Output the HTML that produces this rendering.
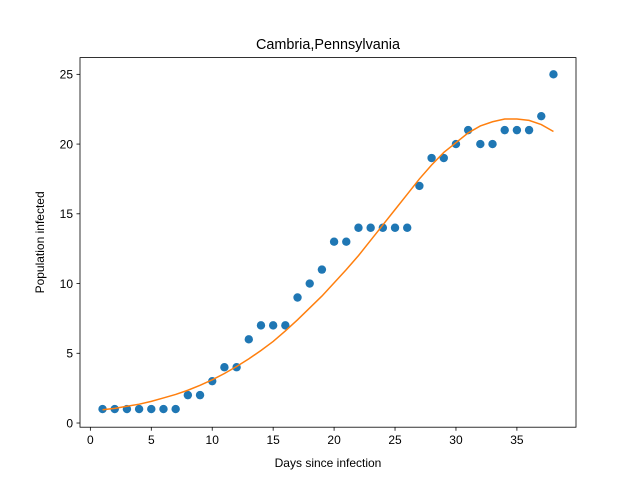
<!DOCTYPE html>
<html><head><meta charset="utf-8"><style>body{margin:0;background:#fff}svg{display:block;font-family:"Liberation Sans","DejaVu Sans",sans-serif}</style></head>
<body>
<svg id="chart" width="640" height="480" xmlns="http://www.w3.org/2000/svg">
<rect width="640" height="480" fill="#fff"/>
<text x="328" y="49" text-anchor="middle" font-size="14.4">Cambria,Pennsylvania</text>
<text x="328" y="467" text-anchor="middle" font-size="12">Days since infection</text>
<text transform="translate(44,242.4) rotate(-90)" text-anchor="middle" font-size="12">Population infected</text>
<g id="plot"></g>
</svg>
<script>
const days = [1,2,3,4,5,6,7,8,9,10,11,12,13,14,15,16,17,18,19,20,21,22,23,24,25,26,27,28,29,30,31,32,33,34,35,36,37,38];
const infected = [1,1,1,1,1,1,1,2,2,3,4,4,6,7,7,7,9,10,11,13,13,14,14,14,14,14,17,19,19,20,21,20,20,21,21,21,22,25];
const fitted = [0.95,1.05,1.2,1.35,1.55,1.8,2.05,2.35,2.7,3.1,3.55,4.05,4.6,5.2,5.85,6.6,7.4,8.25,9.1,10.05,11.0,12.0,13.1,14.2,15.3,16.4,17.5,18.5,19.4,20.1,20.8,21.3,21.6,21.8,21.8,21.7,21.4,20.9];
const xTicks = [0,5,10,15,20,25,30,35];
const yTicks = [0,5,10,15,20,25];

const L=80,R=576,T=57.6,B=427.2;
const xmin=-0.85,xmax=39.85,ymin=-0.3,ymax=26.2;
const sx=v=>L+(v-xmin)/(xmax-xmin)*(R-L);
const sy=v=>B-(v-ymin)/(ymax-ymin)*(B-T);
const NS="http://www.w3.org/2000/svg";
const g=document.getElementById('plot');
function mk(tag,attrs){const e=document.createElementNS(NS,tag);for(const k in attrs)e.setAttribute(k,attrs[k]);g.appendChild(e);return e;}

infected.forEach((v,i)=>{
  const c=mk('circle',{cx:sx(days[i]),cy:sy(v),r:4.2,fill:'#1f77b4'});
  
  
});
const line=mk('polyline',{points:fitted.map((v,i)=>sx(days[i])+','+sy(v)).join(' '),fill:'none',stroke:'#ff7f0e','stroke-width':1.5});



xTicks.forEach(t=>{
  const x=sx(t);
  const tk=mk('line',{x1:x,x2:x,y1:B,y2:B+3.5,stroke:'#000','stroke-width':0.8});
  
  
  const tx=mk('text',{x:x,y:B+17,'text-anchor':'middle','font-size':12});
  tx.textContent=t;
  
  
});
yTicks.forEach(t=>{
  const y=sy(t);
  const tk=mk('line',{x1:L-3.5,x2:L,y1:y,y2:y,stroke:'#000','stroke-width':0.8});
  
  
  const tx=mk('text',{x:L-7,y:y+4.3,'text-anchor':'end','font-size':12});
  tx.textContent=t;
  
  
});
const fr=mk('rect',{x:L,y:T,width:R-L,height:B-T,fill:'none',stroke:'#000','stroke-width':0.8});


</script>
</body></html>
